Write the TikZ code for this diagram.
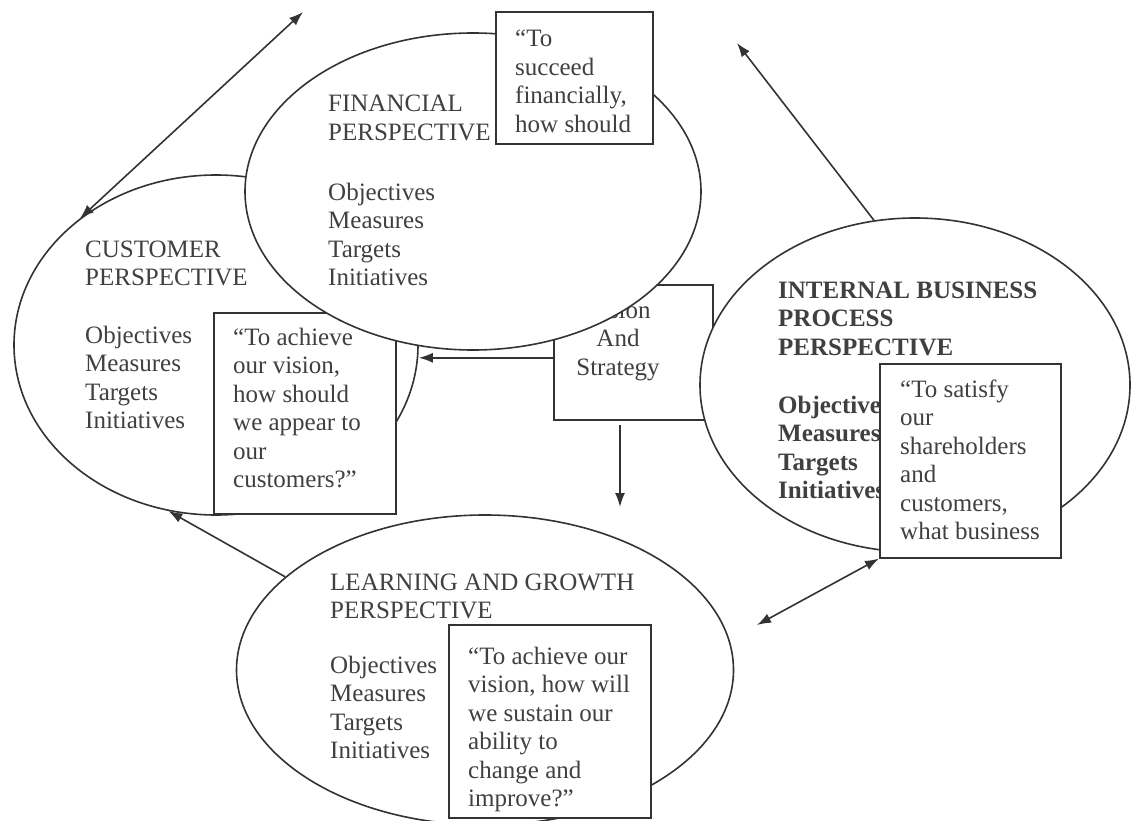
\documentclass[tikz,border=0pt]{standalone}
\usepackage{fontspec}
\setmainfont{Liberation Serif}
\usetikzlibrary{shapes.geometric}
\usetikzlibrary{arrows.meta}

\begin{document}
\begin{tikzpicture}[x=1pt, y=-1pt,
    font=\fontsize{25}{28.5}\selectfont,
    persp/.style={ellipse, draw=black!80, fill=white, line width=1.6pt, inner sep=0pt},
    qbox/.style={rectangle, draw=black!80, fill=white, line width=1.6pt, inner sep=0pt, anchor=north west},
    words/.style={anchor=base west, align=left, inner sep=0pt, text=black!75},
    arr/.style={draw=black!80, line width=1.6pt, -{Latex[length=14pt,width=10pt]}},
    darr/.style={draw=black!80, line width=1.6pt, {Latex[length=14pt,width=10pt]}-{Latex[length=14pt,width=10pt]}}]
    \useasboundingbox (0,0) rectangle (1135,821);

    \node[persp, minimum width=404, minimum height=340] (cust) at (216,345) {};
    \node[words] (custTitle) at (85,285.5) {CUSTOMER\\PERSPECTIVE};
    \node[words] (custList) at (85,428.5) {Objectives\\Measures\\Targets\\Initiatives};
    \node[qbox, minimum width=182, minimum height=201] (custBox) at (213,312) {};
    \node[words] (custQ) at (233,487.5) {“To achieve\\our vision,\\how should\\we appear to\\our\\customers?”};

    \node[qbox, minimum width=159, minimum height=135] (visBox) at (553,284) {};
    \node[words, anchor=base, align=center] (visTxt) at (618,375) {Vision\\And\\Strategy};

    \node[persp, minimum width=456, minimum height=317] (fin) at (473,191.5) {};
    \node[words] (finTitle) at (328,140.5) {FINANCIAL\\PERSPECTIVE};
    \node[words] (finList) at (328,285.5) {Objectives\\Measures\\Targets\\Initiatives};
    \node[qbox, minimum width=157, minimum height=132] (finBox) at (495,11) {};
    \node[words] (finQ) at (515,132.5) {“To\\succeed\\financially,\\how should};

    \node[persp, minimum width=430, minimum height=334] (int) at (915,385) {};
    \node[words, font=\fontsize{25}{28.5}\selectfont\bfseries] (intTitle) at (778,355) {INTERNAL BUSINESS\\PROCESS\\PERSPECTIVE};
    \node[words, font=\fontsize{25}{28.5}\selectfont\bfseries] (intList) at (778,498.5) {Objectives\\Measures\\Targets\\Initiatives};
    \node[qbox, minimum width=181, minimum height=194] (intBox) at (879,363) {};
    \node[words] (intQ) at (900,539.5) {“To satisfy\\our\\shareholders\\and\\customers,\\what business};

    \node[persp, minimum width=497, minimum height=310] (learn) at (485,670) {};
    \node[words] (learnTitle) at (330,618.5) {LEARNING AND GROWTH\\PERSPECTIVE};
    \node[words] (learnList) at (330,758.5) {Objectives\\Measures\\Targets\\Initiatives};
    \node[qbox, minimum width=202, minimum height=193] (learnBox) at (448,624) {};
    \node[words] (learnQ) at (468,806.5) {“To achieve our\\vision, how will\\we sustain our\\ability to\\change and\\improve?”};

    \coordinate (finUp) at (303,12);
    \coordinate (intUp) at (737,43);
    \coordinate (intDown) at (757,625);
    \coordinate (visDown) at (620,507);

    \draw[darr] (cust.137) -- (finUp);
    \draw[arr] (int.104) -- (intUp);
    \draw[arr] ([yshift=-5.5pt]visBox.west) -- ([yshift=-5.5pt]visBox.west -| cust.east);
    \draw[arr, shorten <=4pt] (visBox.south -| visDown) -- (visDown);
    \draw[arr] (learn.155) -- (cust.254);
    \draw[darr] (intDown) -- (intBox.south west);
\end{tikzpicture}
\end{document}
